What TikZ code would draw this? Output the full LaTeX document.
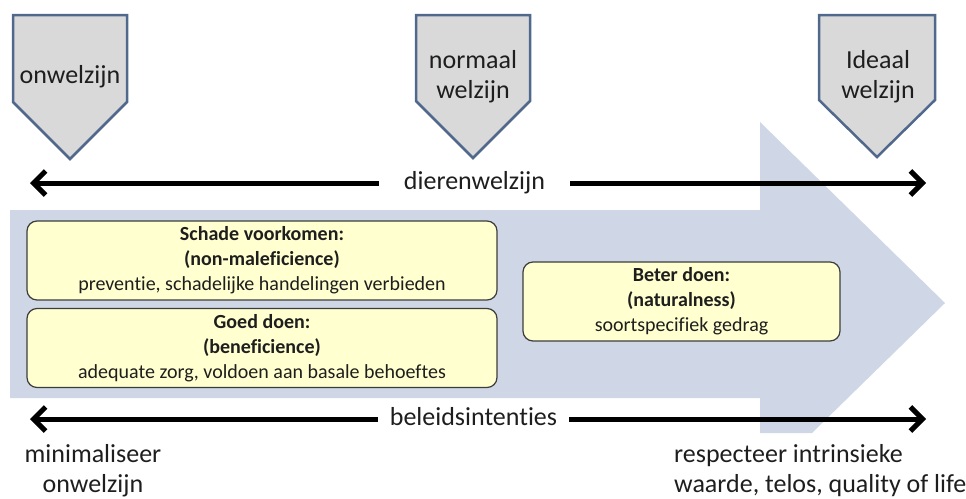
\documentclass[tikz,border=0pt]{standalone}
\usepackage{fontspec}
\setmainfont{Carlito}[Ligatures={NoCommon}]
\usetikzlibrary{arrows.meta}
\definecolor{pentfill}{RGB}{217,217,217}
\definecolor{pentline}{RGB}{80,104,140}
\definecolor{bigarrow}{RGB}{207,215,230}
\definecolor{boxfill}{RGB}{255,255,207}
\definecolor{boxline}{RGB}{60,60,60}
\definecolor{txt}{RGB}{30,30,30}
\begin{document}
\begin{tikzpicture}[x=1pt,y=-1pt,
  pent/.style={fill=pentfill, draw=pentline, line width=2.5pt, line join=miter},
  bigtext/.style={font=\fontsize{26}{30}\selectfont, text=txt, inner sep=0pt},
  penttext/.style={bigtext, align=center},
  axisline/.style={line width=5pt, -{Straight Barb[length=12pt,width=24pt]}},
  axislabel/.style={bigtext, text height=18pt, text depth=5pt},
  infobox/.style={fill=boxfill, draw=boxline, line width=1.2pt, rounded corners=10pt,
    minimum height=79pt, align=center, text=txt, inner sep=2pt,
    font=\fontsize{20}{25}\selectfont}]
\useasboundingbox (0,0) rectangle (966,498);

% big light blue arrow
\fill[bigarrow] (10,210) -- (760,210) -- (760,122) -- (945,303) -- (812,433)
  -- (760,433) -- (760,398) -- (10,398) -- cycle;

% pentagons
\draw[pent] (13,15) -- (127,15) -- (127,102) -- (70,159) -- (13,102) -- cycle;
\draw[pent] (416,15) -- (530,15) -- (530,101) -- (473,158) -- (416,101) -- cycle;
\draw[pent] (819,15) -- (935,15) -- (935,100) -- (877,157) -- (819,100) -- cycle;
\node[penttext] (onw) at (70,77) {onwelzijn};
\node[penttext] (norm) at (473,77) {normaal\\welzijn};
\node[penttext] (ideaal) at (878,77) {Ideaal\\welzijn};

% top axis
\coordinate (tl) at (30,183);
\coordinate (tr) at (926,183);
\node[axislabel, inner xsep=25pt] (dw) at (474.5,183) {dierenwelzijn};
\draw[axisline] (dw.west) -- (tl);
\draw[axisline] (dw.east) -- (tr);

% boxes
\node[infobox, minimum width=470pt] (b1) at (262,260.5)
  {\textbf{Schade voorkomen:}\\\textbf{(non-maleficience)}\\preventie, schadelijke handelingen verbieden};
\node[infobox, minimum width=470pt] (b2) at (262,348)
  {\textbf{Goed doen:}\\\textbf{(beneficience)}\\adequate zorg, voldoen aan basale behoeftes};
\node[infobox, minimum width=317pt] (b3) at (681.5,301.5)
  {\textbf{Beter doen:}\\\textbf{(naturalness)}\\soortspecifiek gedrag};

% bottom axis
\coordinate (bl) at (30,419);
\coordinate (br) at (926,419);
\node[axislabel, inner xsep=12pt] (bi) at (473.5,419) {beleidsintenties};
\draw[axisline] (bi.west) -- (bl);
\draw[axisline] (bi.east) -- (br);

% bottom texts
\node[penttext] (minl) at (93,470.5) {minimaliseer\\onwelzijn};
\node[bigtext, align=left, anchor=west] (resp) at (674,470.5) {respecteer intrinsieke\\waarde, telos, quality of life};
\end{tikzpicture}
\end{document}
